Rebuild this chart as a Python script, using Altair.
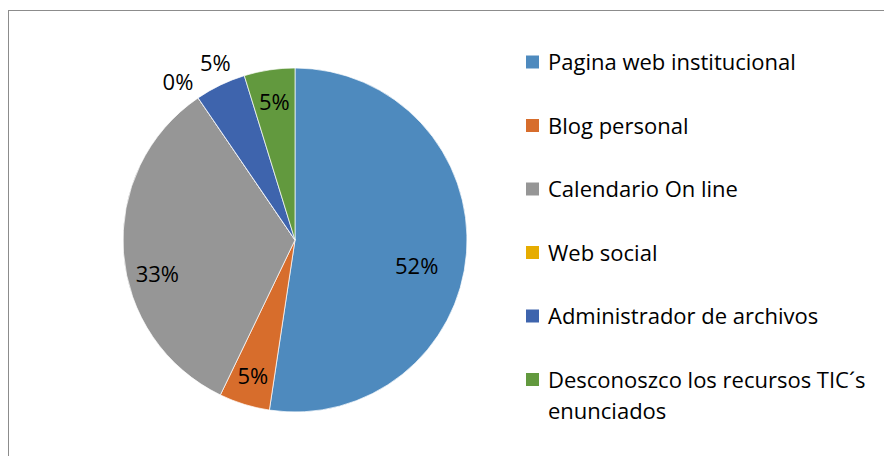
import altair as alt
import pandas as pd

categories = [
    "Pagina web institucional",
    "Blog personal",
    "Calendario On line",
    "Web social",
    "Administrador de archivos",
    "Desconoszco los recursos TIC´s enunciados",
]
counts = [11, 1, 7, 0, 1, 1]
pct_labels = ["52%", "5%", "33%", "0%", "5%", "5%"]
legend_text = [
    "Pagina web institucional",
    "Blog personal",
    "Calendario On line",
    "Web social",
    "Administrador de archivos",
    "Desconoszco los recursos TIC´s\nenunciados",
]
colors = ["#4E8ABE", "#D76D2C", "#969696", "#E6AC00", "#3E64AD", "#62993E"]

df = pd.DataFrame({
    "cat": categories,
    "count": counts,
    "pct": pct_labels,
    "legend": legend_text,
    "idx": list(range(len(categories))),
})

FONT = "Open Sans"
FS = 22
CX, CY, R = 287, 232, 172

color = alt.Color("cat:N", scale=alt.Scale(domain=categories, range=colors), legend=None)
base = alt.Chart(df)

pie = base.mark_arc(outerRadius=R, stroke="#ffffff", strokeWidth=0.7).encode(
    theta=alt.Theta("count:Q", stack=True),
    color=color,
    order=alt.Order("idx:Q"),
    x=alt.value(CX),
    y=alt.value(CY),
)

label_style = {
    "Pagina web institucional": (124, -2, 18),
    "Blog personal": (143, 0, 0),
    "Calendario On line": (138, 0, 25),
    "Web social": (190, -10, 0),
    "Administrador de archivos": (195, 5, 0),
    "Desconoszco los recursos TIC´s enunciados": (139, 0, 0),
}

labels_base = base.transform_window(
    cum="sum(count)", sort=[alt.SortField("idx")]
).transform_calculate(mid="datum.cum - datum.count / 2")

label_layers = []
for cat, (r, dx, dy) in label_style.items():
    label_layers.append(
        labels_base.transform_filter(alt.datum.cat == cat).mark_text(
            radius=r, dx=dx, dy=dy, font=FONT, fontSize=FS, color="#000000",
            align="center", baseline="middle",
        ).encode(
            theta=alt.Theta("mid:Q"),
            text="pct:N",
            x=alt.value(CX),
            y=alt.value(CY),
        )
    )

ypos = alt.Y("cat:N", scale=alt.Scale(type="point", domain=categories, range=[54, 371.5], padding=0), axis=None)

leg_sq = base.mark_square(size=169, opacity=1).encode(
    x=alt.value(524.5), y=ypos, color=color,
)
leg_txt = base.mark_text(
    align="left", baseline="alphabetic", dy=8, lineBreak="\n", lineHeight=31,
    font=FONT, fontSize=FS, color="#000000",
).encode(x=alt.value(540), y=ypos, text="legend:N")

one = alt.Data(values=[{"a": 1}])
border_top = alt.Chart(one).mark_rule(color="#8c8c8c", strokeWidth=1).encode(
    x=alt.value(0), x2=alt.value(876), y=alt.value(2.5)
)
border_left = alt.Chart(one).mark_rule(color="#8c8c8c", strokeWidth=1).encode(
    x=alt.value(0.5), y=alt.value(2), y2=alt.value(448)
)

chart = alt.layer(pie, *label_layers, leg_sq, leg_txt, border_top, border_left).properties(
    width=876, height=448, autosize="none", padding=0
).configure_view(stroke=None)

chart.save("out.html", embed_options={"renderer": "svg", "actions": False})
